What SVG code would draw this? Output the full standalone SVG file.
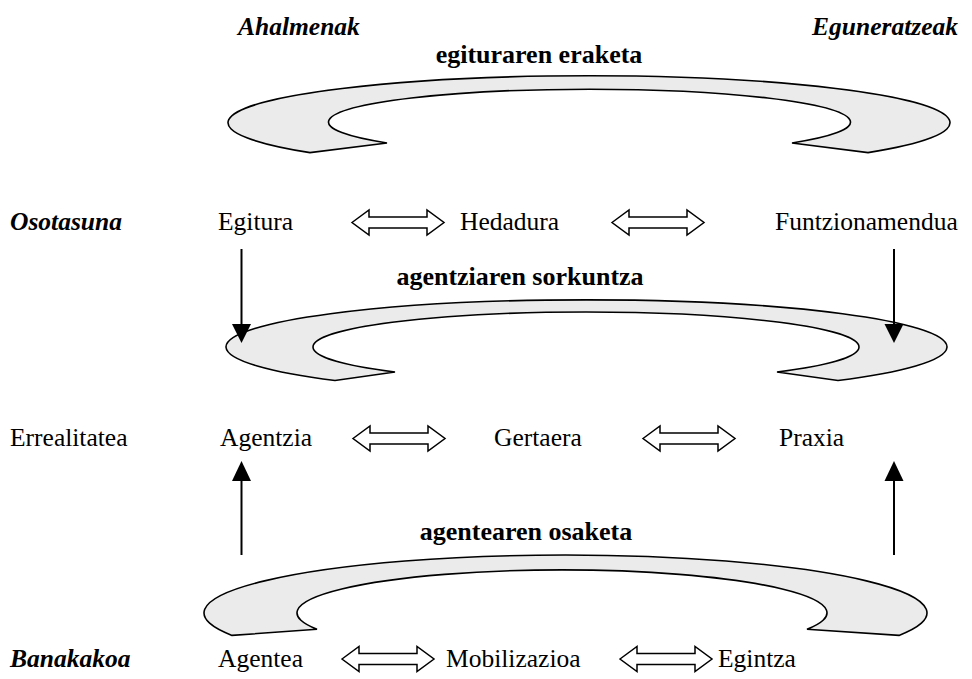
<svg xmlns="http://www.w3.org/2000/svg" width="972" height="679" viewBox="0 0 972 679">
<style>
text{font-family:"Liberation Serif","Times New Roman",serif;font-size:25.5px;fill:#000}
.b{font-weight:bold;font-size:26px}
.bi{font-weight:bold;font-style:italic}
.ring{fill:#ebebeb;stroke:#000;stroke-width:1.6;stroke-linejoin:miter}
.dbl{fill:#fff;stroke:#000;stroke-width:1.5;stroke-linejoin:miter}
.ln{stroke:#000;stroke-width:2;fill:none}
</style>
<defs>
<path id="dblarrow" d="M0,0 L17,-12.5 L17,-5.5 L75,-5.5 L75,-12.5 L92,0 L75,12.5 L75,5.5 L17,5.5 L17,12.5 Z"/>
</defs>

<g id="headers">
<text class="bi" x="238" y="35">Ahalmenak</text>
<text class="bi" x="958" y="35" text-anchor="end">Eguneratzeak</text>
</g>

<g id="ring1">
<path class="ring" d="M310,152.6 A361,47 0 1 1 868,152.6 L792,143 A261,33 0 1 0 387,143 Z"/>
<text class="b" x="539" y="63" text-anchor="middle">egituraren eraketa</text>
</g>

<g id="ring2">
<path class="ring" d="M335,380.5 A360.5,47 0 1 1 838,380.5 L777,372 A273,35 0 1 0 395,372 Z"/>
<text class="b" x="520" y="285" text-anchor="middle">agentziaren sorkuntza</text>
</g>

<g id="ring3">
<path class="ring" d="M232,635.4 A361.5,58 0 1 1 899,635.4 L807,629.3 A265,43 0 1 0 317,629.3 Z"/>
<text class="b" x="526" y="540" text-anchor="middle">agentearen osaketa</text>
</g>

<g id="row1">
<g id="osotasuna"><text class="bi" x="10" y="230">Osotasuna</text></g>
<g id="egitura"><text x="218" y="230">Egitura</text></g>
<g id="hedadura"><text x="460" y="230">Hedadura</text></g>
<g id="funtzionamendua"><text x="775" y="230">Funtzionamendua</text></g>
</g>

<g id="row2">
<g id="errealitatea"><text x="10" y="446">Errealitatea</text></g>
<g id="agentzia"><text x="220" y="446">Agentzia</text></g>
<g id="gertaera"><text x="494" y="446">Gertaera</text></g>
<g id="praxia"><text x="779" y="446">Praxia</text></g>
</g>

<g id="row3">
<g id="banakakoa"><text class="bi" x="10" y="667">Banakakoa</text></g>
<g id="agentea"><text x="218" y="667">Agentea</text></g>
<g id="mobilizazioa"><text x="446" y="667">Mobilizazioa</text></g>
<g id="egintza"><text x="718" y="667">Egintza</text></g>
</g>

<g id="connectors">
<use href="#dblarrow" class="dbl" transform="translate(352,222.5)"/>
<use href="#dblarrow" class="dbl" transform="translate(612,222.5)"/>
<use href="#dblarrow" class="dbl" transform="translate(353,438.5)"/>
<use href="#dblarrow" class="dbl" transform="translate(643,438.5)"/>
<use href="#dblarrow" class="dbl" transform="translate(342,659)"/>
<use href="#dblarrow" class="dbl" transform="translate(620,659)"/>
<g class="ln">
<line x1="241.5" y1="249" x2="241.5" y2="325"/>
<path d="M232,324 L251,324 L241.5,343 Z" fill="#000" stroke="none"/>
<line x1="894" y1="249" x2="894" y2="325"/>
<path d="M884.5,324 L903.5,324 L894,343 Z" fill="#000" stroke="none"/>
<line x1="241.5" y1="555" x2="241.5" y2="480"/>
<path d="M232,481 L251,481 L241.5,461 Z" fill="#000" stroke="none"/>
<line x1="894" y1="555" x2="894" y2="480"/>
<path d="M884.5,481 L903.5,481 L894,461 Z" fill="#000" stroke="none"/>
</g>
</g>
</svg>
